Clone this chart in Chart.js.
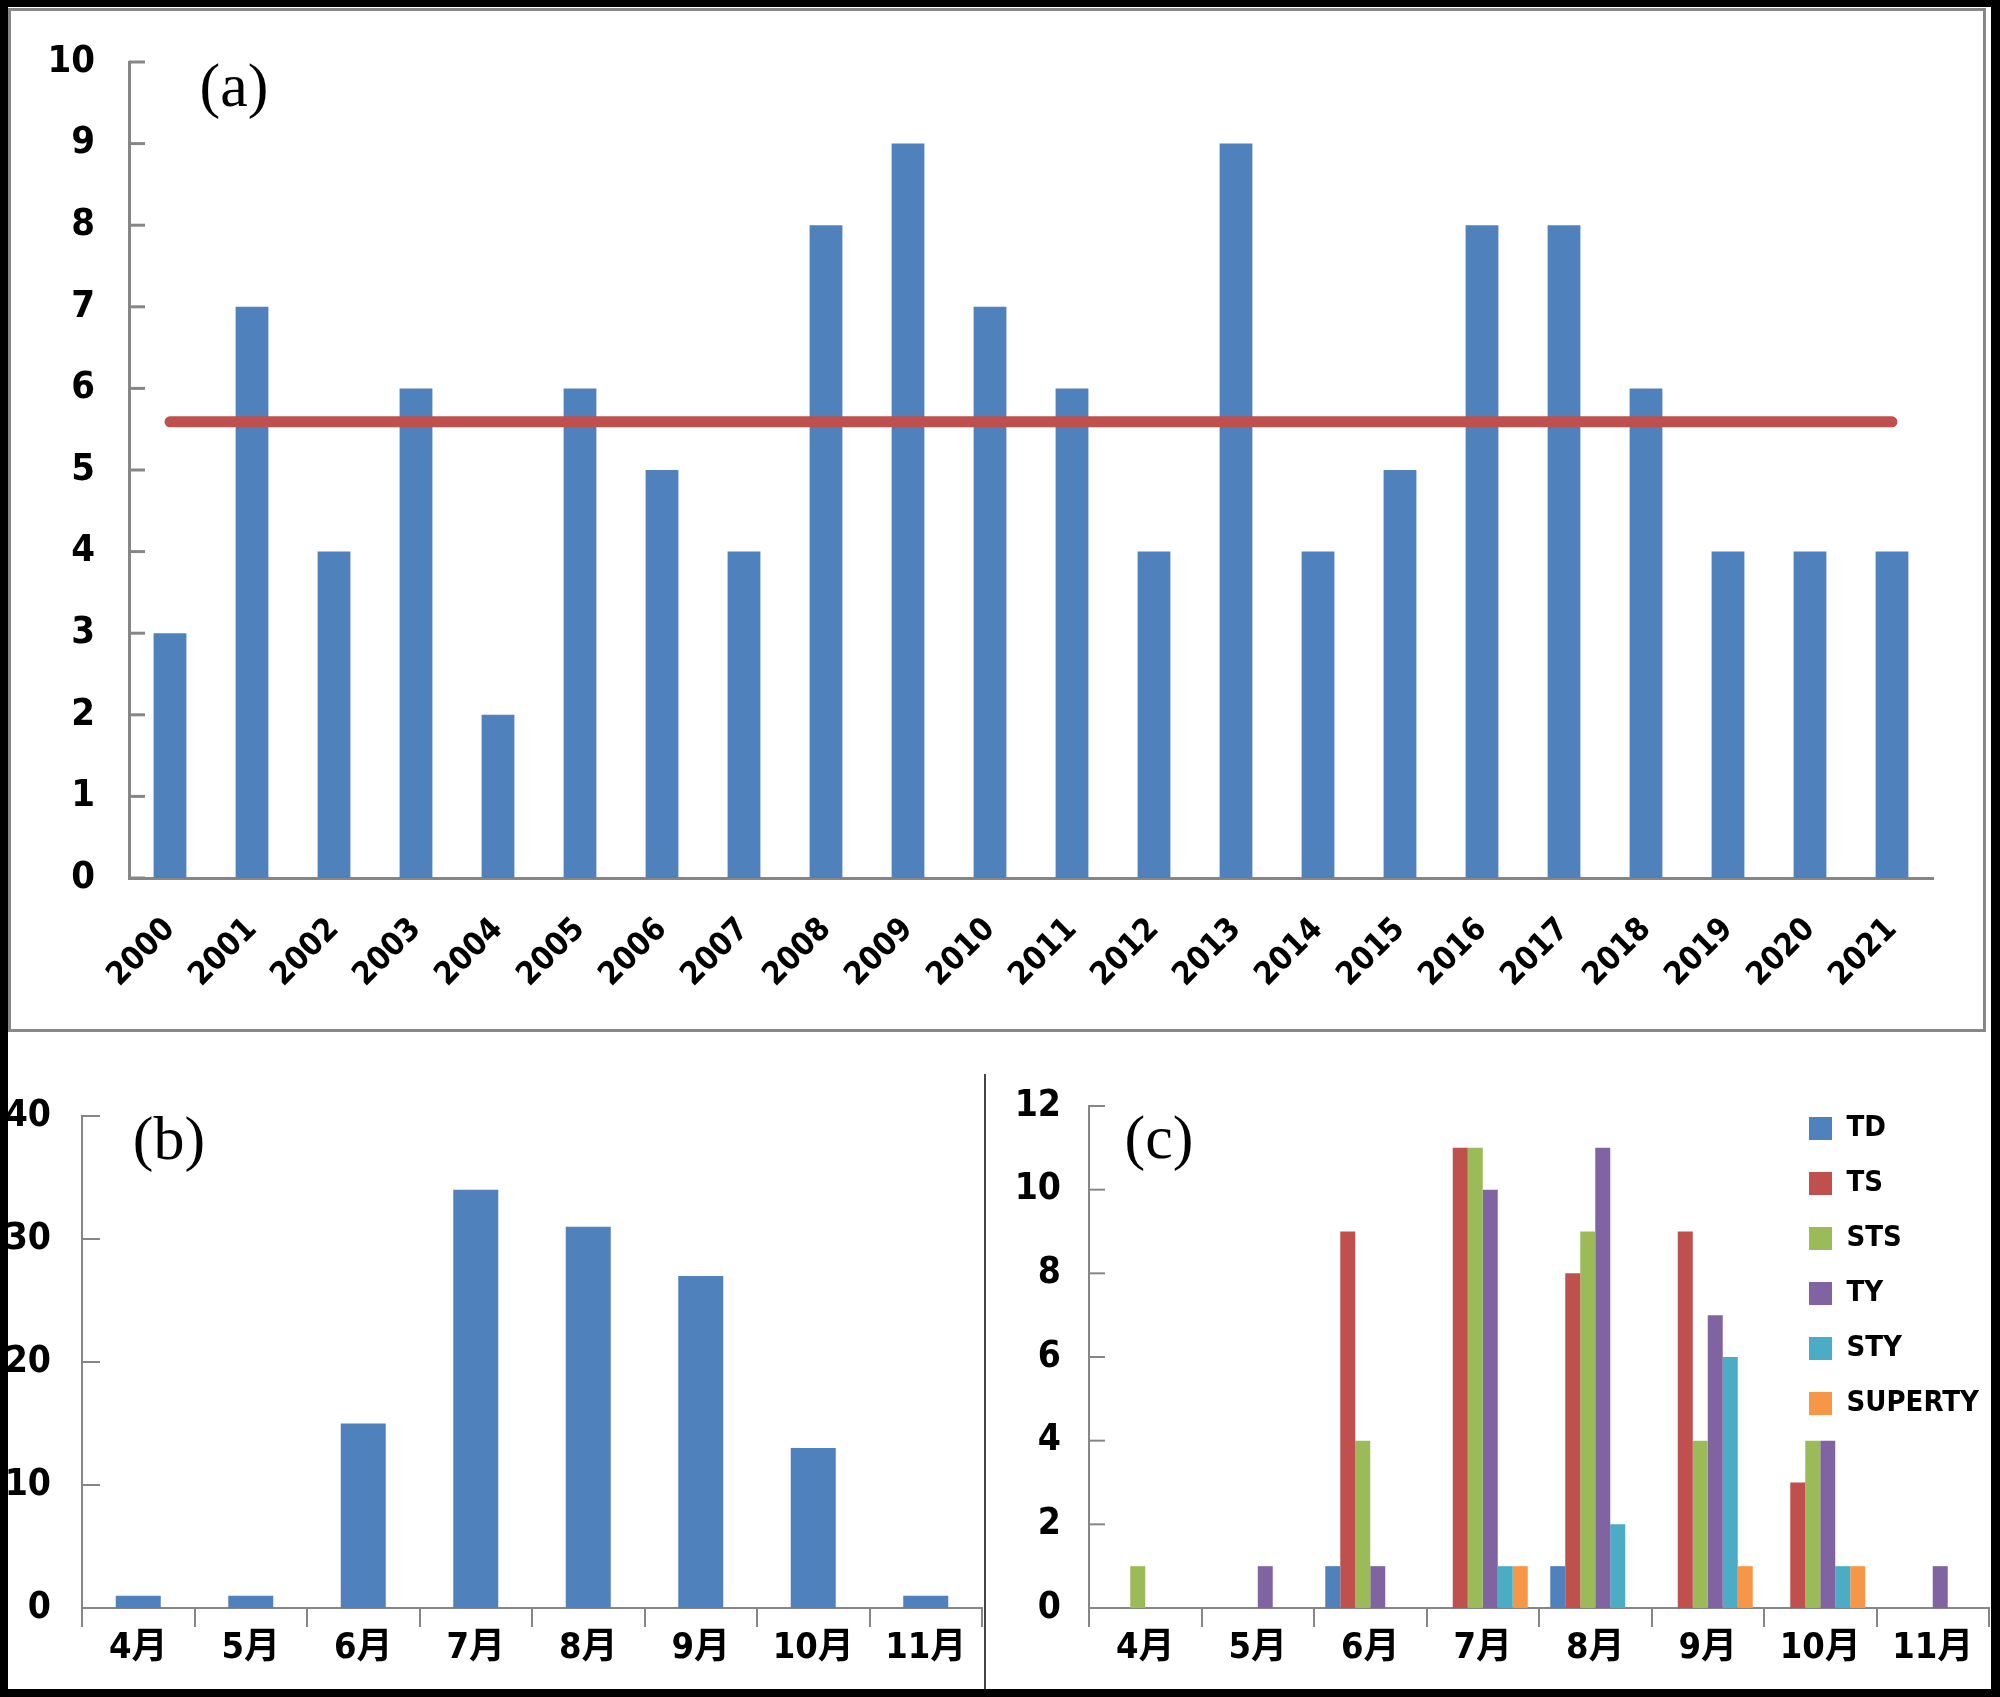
<!DOCTYPE html>
<html>
<head>
<meta charset="utf-8">
<title>Typhoon counts 2000-2021</title>
<script src="https://cdn.jsdelivr.net/npm/chart.js@4.4.1/dist/chart.umd.min.js"></script>
<style>
    html, body { margin: 0; padding: 0; }
    body { width: 2000px; height: 1697px; background: #000; position: relative; overflow: hidden; }
    #sheet { position: absolute; left: 8px; top: 7px; width: 1983px; height: 1682px; background: #fff; }
    #frameA { position: absolute; left: 8px; top: 8px; width: 1972px; height: 1018px; border: 3px solid #878787; }
    #divider { position: absolute; left: 984px; top: 1074px; width: 2px; height: 615px; background: #444; }
    canvas { position: absolute; }
    #chartA { left: 0; top: 0; }
    #chartB { left: 0; top: 1040px; }
    #chartC { left: 987px; top: 1040px; }
</style>
</head>
<body>
<div id="sheet"></div>
<div id="frameA"></div>
<div id="divider"></div>
<canvas id="chartA" width="2000" height="1040"></canvas>
<canvas id="chartB" width="985" height="649"></canvas>
<canvas id="chartC" width="1004" height="649"></canvas>
<script>
// (a) yearly counts
const years = ['2000', '2001', '2002', '2003', '2004', '2005', '2006', '2007', '2008', '2009', '2010',
               '2011', '2012', '2013', '2014', '2015', '2016', '2017', '2018', '2019', '2020', '2021'];
const yearCounts = [3, 7, 4, 6, 2, 6, 5, 4, 8, 9, 7, 6, 4, 9, 4, 5, 8, 8, 6, 4, 4, 4];
const yearMean = [5.59, 5.59, 5.59, 5.59, 5.59, 5.59, 5.59, 5.59, 5.59, 5.59, 5.59,
                  5.59, 5.59, 5.59, 5.59, 5.59, 5.59, 5.59, 5.59, 5.59, 5.59, 5.59];

// (b) monthly counts
const months = ['4月', '5月', '6月', '7月', '8月', '9月', '10月', '11月'];
const monthCounts = [1, 1, 15, 34, 31, 27, 13, 1];

// (c) monthly counts by grade
const grades = ['TD', 'TS', 'STS', 'TY', 'STY', 'SUPERTY'];
const tdCounts = [0, 0, 1, 0, 1, 0, 0, 0];
const tsCounts = [0, 0, 9, 11, 8, 9, 3, 0];
const stsCounts = [1, 0, 4, 11, 9, 4, 4, 0];
const tyCounts = [0, 1, 1, 10, 11, 7, 4, 1];
const styCounts = [0, 0, 0, 1, 2, 6, 1, 0];
const superTyCounts = [0, 0, 0, 1, 0, 1, 1, 0];

const gradeColors = ['#4F81BD', '#C0504D', '#9BBB59', '#8064A2', '#4BACC6', '#F79646'];
const barBlue = '#4F81BD';
const axisGray = '#868686';
const condensed = '"DejaVu Sans Condensed", "DejaVu Sans", "Noto Sans CJK SC", sans-serif';

// short tick marks pointing into the plot from the y axis
const innerTicks = {
    id: 'innerTicks',
    afterDatasetsDraw(chart, args, opts) {
        const y = chart.scales.y;
        const ctx = chart.ctx;
        const left = chart.chartArea.left;
        ctx.save();
        ctx.strokeStyle = axisGray;
        ctx.lineWidth = opts.width;
        y.ticks.forEach((t, i) => {
            const py = y.getPixelForTick(i);
            ctx.beginPath();
            ctx.moveTo(left, py);
            ctx.lineTo(left + opts.length, py);
            ctx.stroke();
        });
        ctx.restore();
    }
};

// "(a)", "(b)", "(c)" tags
const panelLabel = {
    id: 'panelLabel',
    afterDraw(chart, args, opts) {
        const ctx = chart.ctx;
        ctx.save();
        ctx.font = 'normal 62px "Liberation Serif", "Times New Roman", serif';
        ctx.fillStyle = '#000';
        ctx.textAlign = 'center';
        ctx.textBaseline = 'middle';
        ctx.fillText(opts.text, chart.chartArea.left + opts.dx, chart.chartArea.top + opts.dy);
        ctx.restore();
    }
};

// put the legend at the top right inside the plot
const legendPlacer = {
    id: 'legendPlacer',
    beforeDraw(chart, args, opts) {
        const lg = chart.legend;
        if (!lg) return;
        const w = lg.width, h = lg.height;
        lg.left = chart.chartArea.left + opts.dx;
        lg.right = lg.left + w;
        lg.top = chart.chartArea.top + opts.dy;
        lg.bottom = lg.top + h;
    }
};

function yAxis(max, step, size, pad, width) {
    return {
        min: 0,
        max: max,
        grid: { display: false, drawTicks: false },
        border: { color: axisGray, width: width },
        ticks: { stepSize: step, color: '#000', padding: pad, font: { family: condensed, weight: 'bold', size: size } }
    };
}

function monthAxis() {
    return {
        type: 'category',
        offset: true,
        grid: { display: true, offset: true, drawOnChartArea: false, drawTicks: true, tickLength: 19, color: axisGray, lineWidth: 2 },
        border: { color: axisGray, width: 2 },
        ticks: { color: '#000', padding: 0, maxRotation: 0, autoSkip: false, font: { family: condensed, weight: 'bold', size: 36 } }
    };
}

function createYearChart() {
    const y = yAxis(10, 1, 38, 34, 3);
    y.afterFit = s => { s.width = 129; };
    new Chart(document.getElementById('chartA'), {
        type: 'bar',
        data: {
            labels: years,
            datasets: [
                { type: 'line', data: yearMean, borderColor: '#C0504D', borderWidth: 11, borderCapStyle: 'round', pointRadius: 0, order: 0 },
                { type: 'bar', data: yearCounts, backgroundColor: barBlue, barPercentage: 0.4, categoryPercentage: 1, order: 1 }
            ]
        },
        options: {
            responsive: false,
            animation: false,
            devicePixelRatio: 1,
            layout: { padding: { left: 0, right: 67, top: 62, bottom: 0 } },
            plugins: {
                legend: { display: false },
                tooltip: { enabled: false },
                innerTicks: { length: 16, width: 3 },
                panelLabel: { text: '(a)', dx: 105, dy: 28 }
            },
            scales: {
                x: {
                    type: 'category',
                    offset: true,
                    grid: { display: false, drawTicks: false },
                    border: { color: axisGray, width: 3 },
                    ticks: { color: '#000', minRotation: 45, maxRotation: 45, autoSkip: false, padding: 33,
                             font: { family: condensed, weight: 'bold', size: 32 } },
                    afterFit: s => { s.height = 162; }
                },
                y: y
            }
        },
        plugins: [innerTicks, panelLabel]
    });
}

function createMonthChart() {
    const x = monthAxis();
    x.afterFit = s => { s.height = 81; };
    const y = yAxis(40, 10, 37, 31, 2);
    y.afterFit = s => { s.width = 82; };
    new Chart(document.getElementById('chartB'), {
        type: 'bar',
        data: {
            labels: months,
            datasets: [{ data: monthCounts, backgroundColor: barBlue, barPercentage: 0.4, categoryPercentage: 1 }]
        },
        options: {
            responsive: false,
            animation: false,
            devicePixelRatio: 1,
            layout: { padding: { left: 0, right: 3, top: 76, bottom: 0 } },
            plugins: {
                legend: { display: false },
                tooltip: { enabled: false },
                innerTicks: { length: 18, width: 2 },
                panelLabel: { text: '(b)', dx: 87, dy: 27 }
            },
            scales: { x: x, y: y }
        },
        plugins: [innerTicks, panelLabel]
    });
}

function createGradeChart() {
    const x = monthAxis();
    x.afterFit = s => { s.height = 81; };
    const y = yAxis(12, 2, 37, 28, 2);
    y.afterFit = s => { s.width = 102; };
    const series = [tdCounts, tsCounts, stsCounts, tyCounts, styCounts, superTyCounts];
    new Chart(document.getElementById('chartC'), {
        type: 'bar',
        data: {
            labels: months,
            datasets: series.map((d, i) => ({
                label: grades[i],
                data: d,
                backgroundColor: gradeColors[i],
                borderWidth: 0,
                barPercentage: 1,
                categoryPercentage: 0.8
            }))
        },
        options: {
            responsive: false,
            animation: false,
            devicePixelRatio: 1,
            layout: { padding: { left: 0, right: 2, top: 66, bottom: 0 } },
            plugins: {
                legend: {
                    display: true,
                    position: 'chartArea',
                    align: 'start',
                    fullSize: false,
                    labels: { boxWidth: 23, boxHeight: 23, padding: 26, color: '#000',
                              font: { family: condensed, weight: 'bold', size: 29 } }
                },
                tooltip: { enabled: false },
                innerTicks: { length: 16, width: 2 },
                panelLabel: { text: '(c)', dx: 70, dy: 36 },
                legendPlacer: { dx: 694, dy: -18 }
            },
            scales: { x: x, y: y }
        },
        plugins: [innerTicks, panelLabel, legendPlacer]
    });
}

createYearChart();
createMonthChart();
createGradeChart();
</script>
</body>
</html>
